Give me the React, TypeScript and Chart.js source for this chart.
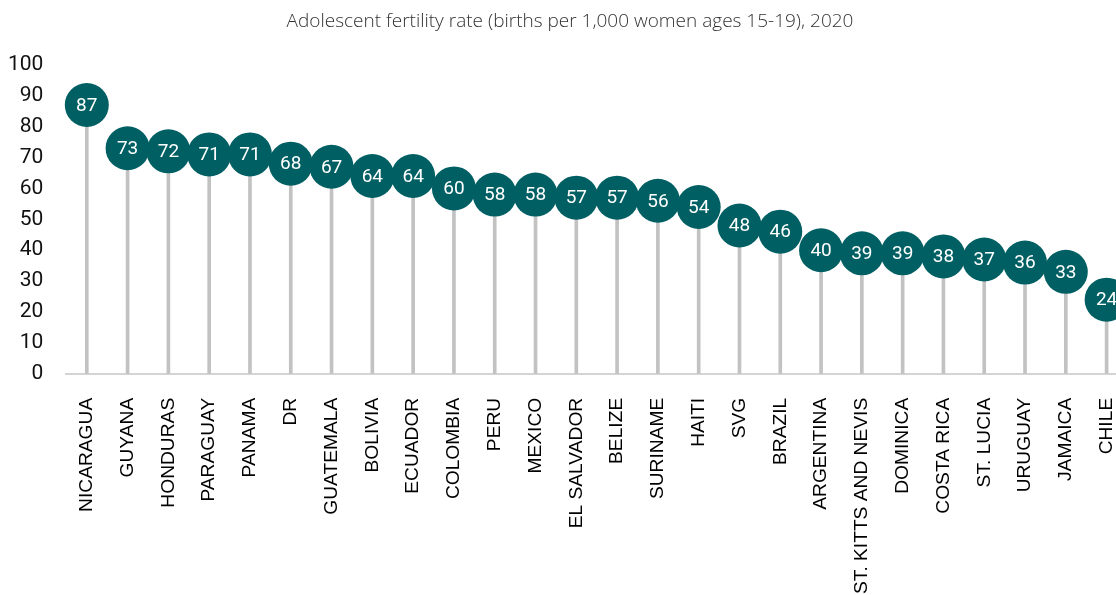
import React, { useEffect, useRef } from "react";
import { Chart, registerables } from "chart.js";

Chart.register(...registerables);

const countries = [
  "NICARAGUA", "GUYANA", "HONDURAS", "PARAGUAY", "PANAMA", "DR", "GUATEMALA",
  "BOLIVIA", "ECUADOR", "COLOMBIA", "PERU", "MEXICO", "EL SALVADOR", "BELIZE",
  "SURINAME", "HAITI", "SVG", "BRAZIL", "ARGENTINA", "ST. KITTS AND NEVIS",
  "DOMINICA", "COSTA RICA", "ST. LUCIA", "URUGUAY", "JAMAICA", "CHILE",
];

const fertilityRate = [
  87, 73, 72, 71, 71, 68, 67, 64, 64, 60, 58, 58, 57, 57, 56, 54, 48, 46, 40,
  39, 39, 38, 37, 36, 33, 24,
];

const yTicks = [0, 10, 20, 30, 40, 50, 60, 70, 80, 90, 100];

const TEAL = "#005f63";
const STEM = "#c2c2c2";

const circleLabels = {
  id: "circleLabels",
  afterDatasetsDraw(chart: any) {
    const meta = chart.getDatasetMeta(0);
    const ctx = chart.ctx;
    ctx.save();
    ctx.fillStyle = "#ffffff";
    ctx.font = "19px Roboto";
    ctx.textAlign = "center";
    ctx.textBaseline = "middle";
    meta.data.forEach((el: any, i: number) => {
      ctx.fillText(String(fertilityRate[i]), el.x, el.y + 1);
    });
    ctx.restore();
  },
};

export default function App() {
  const ref = useRef<HTMLCanvasElement>(null);

  useEffect(() => {
    if (!ref.current) return;
    const chart = new Chart(ref.current, {
      type: "bar",
      data: {
        labels: countries,
        datasets: [
          {
            type: "line",
            data: fertilityRate,
            showLine: false,
            pointRadius: 22,
            pointHoverRadius: 22,
            pointBackgroundColor: TEAL,
            pointBorderColor: TEAL,
            pointBorderWidth: 0,
            order: 0,
            clip: false,
          } as any,
          {
            type: "bar",
            data: fertilityRate,
            backgroundColor: STEM,
            barThickness: 3,
            order: 1,
          },
        ],
      },
      options: {
        responsive: false,
        animation: false,
        layout: { padding: { left: -15, right: -6, top: 0, bottom: 1 } },
        plugins: {
          legend: { display: false },
          tooltip: { enabled: false },
          title: {
            display: true,
            text: "Adolescent fertility rate (births per 1,000 women ages 15-19), 2020",
            color: "#333333",
            font: { family: "'Open Sans'", size: 19, weight: "300" as any },
            padding: { top: 10, bottom: 32 },
          },
        },
        scales: {
          x: {
            grid: { display: false, drawTicks: true, tickLength: 24 },
            border: { display: true, color: "#d4d4d4", width: 2 },
            ticks: {
              autoSkip: false,
              minRotation: 90,
              maxRotation: 90,
              padding: 0,
              color: "#000000",
              font: { family: "'Liberation Sans'", size: 19.2 },
            },
          },
          y: {
            min: 0,
            max: 100,
            afterBuildTicks: (axis: any) => {
              axis.ticks = yTicks.map((v) => ({ value: v }));
            },
            grid: { display: false, drawTicks: false },
            border: { display: false },
            ticks: {
              autoSkip: false,
              padding: 23,
              color: "#111111",
              font: { family: "Roboto", size: 21 },
            },
          },
        },
      },
      plugins: [circleLabels],
    });
    return () => chart.destroy();
  }, []);

  return (
    <div
      style={{
        position: "absolute",
        left: 0,
        top: 0,
        width: 1116,
        height: 595,
        overflow: "hidden",
        background: "#ffffff",
      }}
    >
      <canvas ref={ref} width={1149} height={595} style={{ display: "block" }} />
    </div>
  );
}
